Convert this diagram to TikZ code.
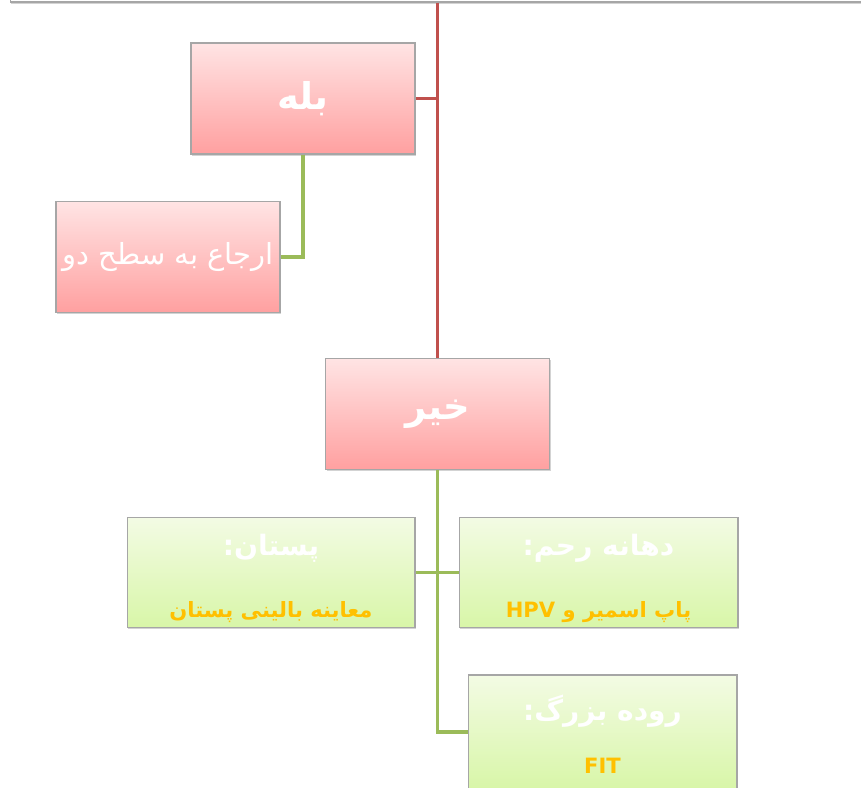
\documentclass[tikz,border=0pt]{standalone}
\usepackage{fontspec}
\newfontfamily\arabicfont[Script=Arabic]{DejaVu Sans}
\TeXXeTstate=1
\usetikzlibrary{positioning, shadows}
\definecolor{pinktop}{RGB}{255,228,228}
\definecolor{pinkbot}{RGB}{255,160,160}
\definecolor{limetop}{RGB}{243,251,228}
\definecolor{limebot}{RGB}{216,246,168}
\definecolor{trunkred}{RGB}{192,80,77}
\definecolor{leafgreen}{RGB}{155,187,89}
\definecolor{gold}{RGB}{255,192,0}
\newcommand\wred{4.48cm}
\newcommand\hred{2.22cm}
\newcommand\hlime{2.2cm}
\tikzset{
  boxshadow/.style={drop shadow={shadow xshift=0.6pt, shadow yshift=-1pt, opacity=0.35}},
  redbox/.style={draw=gray!70, line width=0.6pt, top color=pinktop, bottom color=pinkbot,
    minimum width=\wred, minimum height=\hred, boxshadow, text=white,
    font=\arabicfont\bfseries\fontsize{21}{24}\selectfont},
  limebox/.style={draw=gray!70, line width=0.6pt, top color=limetop, bottom color=limebot,
    minimum height=\hlime, inner ysep=0pt, boxshadow, align=center, text=white,
    font=\arabicfont\bfseries\fontsize{16}{19}\selectfont},
  redline/.style={trunkred, line width=2pt},
  greenline/.style={leafgreen, line width=2pt},
}
\newcommand\goldtext[1]{{\color{gold}\bfseries\fontsize{12}{15}\selectfont\beginR #1\endR}}
\begin{document}
\begin{tikzpicture}[x=0.02cm, y=-0.02cm]
    \useasboundingbox (0,0) rectangle (861,787);

    % box cut off above the page
    \node (top) [draw=gray!70, line width=0.6pt, fill=white, boxshadow, minimum width=17.04cm, minimum height=2cm] at (436,-48) {};

    \node (yes) [redbox] at (303,98.5) {\beginR بله\endR};
    \node (refer) [redbox, font=\arabicfont\fontsize{16.5}{19}\selectfont] at (168,257) {\beginR ارجاع به سطح دو\endR};
    \node (no) [redbox] at (437.5,414) {\beginR خیر\endR};

    \node (breast) [limebox, minimum width=5.76cm] at (271,572.5)
        {\rule{0pt}{19pt}\beginR پستان:\endR\\[0.58cm]\goldtext{معاینه بالینی پستان}};
    \node (cervix) [limebox, minimum width=5.58cm] at (598.5,572.5)
        {\rule{0pt}{19pt}\beginR دهانه رحم:\endR\\[0.58cm]\goldtext{پاپ اسمیر و \beginL HPV\endL}};
    \node (colon) [limebox, minimum width=5.38cm, minimum height=2.28cm] at (602.5,732)
        {\rule{0pt}{17pt}\beginR روده بزرگ:\endR\\[0.38cm]\goldtext{\beginL FIT\endL}};

    \draw[redline] (no.north |- top.south) -- (no.north);
    \draw[redline] (yes.east) -- (yes.east -| no.north);

    \draw[greenline] (yes.south) |- (refer.east);
    \draw[greenline] (no.south) |- (colon.west);
    \draw[greenline] (breast.east) -- (breast.east -| no.south);
    \draw[greenline] (cervix.west) -- (cervix.west -| no.south);

\end{tikzpicture}
\end{document}
